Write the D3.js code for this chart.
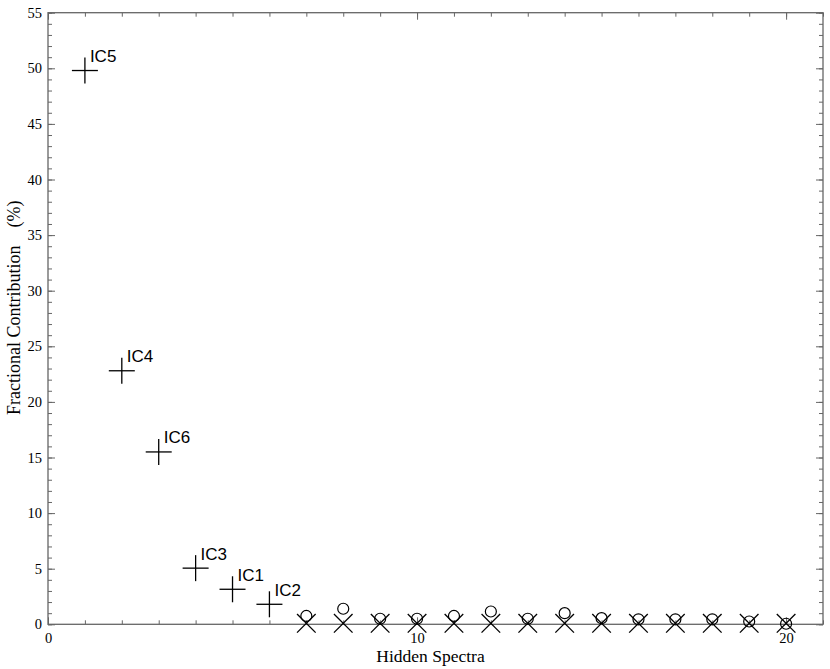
<!DOCTYPE html>
<html><head><meta charset="utf-8">
<script src="https://cdn.jsdelivr.net/npm/d3@7"></script>
<style>body{margin:0;background:#fff}</style>
</head><body>
<svg id="c" width="830" height="669"></svg>
<script>
// Data
const icIndex = [1, 2, 3, 4, 5, 6];
const icValues = [49.8, 22.8, 15.5, 5.05, 3.15, 1.8];
const icLabels = ["IC5", "IC4", "IC6", "IC3", "IC1", "IC2"];
const hiddenIndex = [7, 8, 9, 10, 11, 12, 13, 14, 15, 16, 17, 18, 19, 20];
const circleValues = [0.75, 1.4, 0.5, 0.5, 0.75, 1.15, 0.5, 1.0, 0.55, 0.45, 0.45, 0.45, 0.25, 0.05];
const crossValues = [0, 0, 0, 0, 0, 0, 0, 0, 0, 0, 0, 0, 0, 0];
const xMajorTicks = [0, 10, 20];
const yMajorTicks = [0, 5, 10, 15, 20, 25, 30, 35, 40, 45, 50, 55];

const svg = d3.select("#c");
const L = 48, R = 823, T = 12.7, B = 624.3;
const x = d3.scaleLinear().domain([0, 21]).range([L, R]);
const y = d3.scaleLinear().domain([0, 55]).range([B, T]);
const axisColor = "#666";
const serif = "'Liberation Serif', 'Times New Roman', serif";

const xMinor = d3.range(0, 22);
const yMinor = d3.range(0, 56);

function styleAxis(g) {
  g.select(".domain").remove();
  g.selectAll(".tick line").attr("stroke", axisColor);
  g.attr("font-family", serif).attr("font-size", 14.5);
  g.selectAll("text").attr("fill", "#000");
}
// bottom
svg.append("g").attr("transform", `translate(0,${B})`)
  .call(d3.axisBottom(x).tickValues(xMinor).tickSize(-4).tickFormat(""))
  .call(styleAxis);
svg.append("g").attr("transform", `translate(0,${B})`)
  .call(d3.axisBottom(x).tickValues(xMajorTicks).tickSize(-7).tickPadding(8).tickFormat(d3.format("d")))
  .call(styleAxis);
// top
svg.append("g").attr("transform", `translate(0,${T})`)
  .call(d3.axisTop(x).tickValues(xMinor).tickSize(-4).tickFormat(""))
  .call(styleAxis);
svg.append("g").attr("transform", `translate(0,${T})`)
  .call(d3.axisTop(x).tickValues(xMajorTicks).tickSize(-7).tickFormat(""))
  .call(styleAxis);
// left
svg.append("g").attr("transform", `translate(${L},0)`)
  .call(d3.axisLeft(y).tickValues(yMinor).tickSize(-4).tickFormat(""))
  .call(styleAxis);
svg.append("g").attr("transform", `translate(${L},0)`)
  .call(d3.axisLeft(y).tickValues(yMajorTicks).tickSize(-7).tickPadding(6).tickFormat(d3.format("d")))
  .call(styleAxis);
// right
svg.append("g").attr("transform", `translate(${R},0)`)
  .call(d3.axisRight(y).tickValues(yMinor).tickSize(-4).tickFormat(""))
  .call(styleAxis);
svg.append("g").attr("transform", `translate(${R},0)`)
  .call(d3.axisRight(y).tickValues(yMajorTicks).tickSize(-7).tickFormat(""))
  .call(styleAxis);

// frame
svg.append("rect").attr("x", L).attr("y", T).attr("width", R - L).attr("height", B - T)
  .attr("fill", "none").attr("stroke", axisColor).attr("stroke-width", 1.3);

// plus markers
const ps = 13;
const plus = svg.append("g").attr("stroke", "#000").attr("stroke-width", 1.3);
icIndex.forEach((xi, i) => {
  const cx = x(xi), cy = y(icValues[i]);
  plus.append("line").attr("x1", cx - ps).attr("x2", cx + ps).attr("y1", cy).attr("y2", cy);
  plus.append("line").attr("x1", cx).attr("x2", cx).attr("y1", cy - ps).attr("y2", cy + ps);
  svg.append("text").attr("x", cx + 5).attr("y", cy - 8.5)
    .attr("font-family", "'Liberation Sans', Arial, sans-serif").attr("font-size", 17)
    .text(icLabels[i]);
});

// x markers
const xs = 9.3;
const crosses = svg.append("g").attr("stroke", "#000").attr("stroke-width", 1.3);
hiddenIndex.forEach((xi, i) => {
  const cx = x(xi), cy = y(crossValues[i]) - 1;
  crosses.append("line").attr("x1", cx - xs).attr("x2", cx + xs).attr("y1", cy - xs).attr("y2", cy + xs);
  crosses.append("line").attr("x1", cx - xs).attr("x2", cx + xs).attr("y1", cy + xs).attr("y2", cy - xs);
});
// circles
svg.append("g").selectAll("circle").data(hiddenIndex).join("circle")
  .attr("cx", d => x(d)).attr("cy", (d, i) => y(circleValues[i]))
  .attr("r", 5.5).attr("fill", "none").attr("stroke", "#000").attr("stroke-width", 1.2);

// axis titles
svg.append("text").attr("x", (L + R) / 2 - 5).attr("y", 662).attr("text-anchor", "middle")
  .attr("font-family", serif).attr("font-size", 17.5)
  .text("Hidden Spectra");
const yTitle = svg.append("text").attr("transform", `translate(20,415) rotate(-90)`).attr("text-anchor", "start")
  .attr("font-family", serif).attr("font-size", 18);
yTitle.append("tspan").text("Fractional Contribution");
yTitle.append("tspan").attr("dx", 18).text("(%)");
</script>
</body></html>
